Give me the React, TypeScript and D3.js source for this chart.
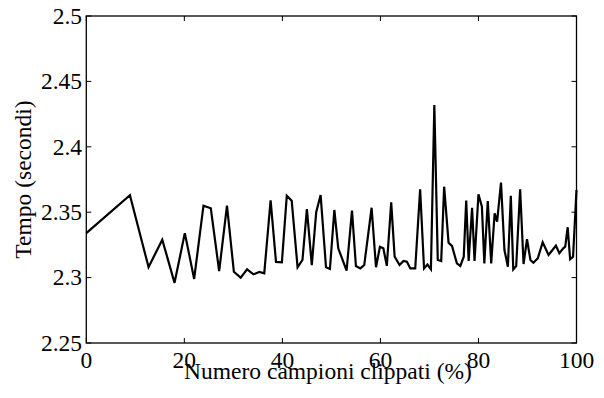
import React from "react";
import * as d3 from "d3";

const xValues = [0, 8.9, 12.7, 15.5, 18.0, 20.1, 22.0, 23.9, 25.4, 27.1, 28.7, 30.1, 31.5, 32.8, 34.1, 35.3, 36.3, 37.6, 38.7, 39.9, 40.9, 41.9, 43.1, 44.1, 45.0, 46.0, 46.9, 47.8, 48.9, 49.7, 50.6, 51.4, 53.1, 54.2, 55.0, 55.9, 56.7, 58.2, 59.1, 59.9, 60.6, 61.3, 62.2, 62.9, 63.9, 64.7, 65.4, 66.1, 67.1, 68.1, 68.9, 69.6, 70.3, 71.0, 71.7, 72.4, 73.0, 73.9, 74.6, 75.6, 76.3, 77.0, 77.5, 78.0, 78.7, 79.2, 80.0, 80.7, 81.2, 81.9, 82.6, 83.3, 83.8, 84.6, 85.3, 86.0, 86.6, 87.1, 87.7, 88.5, 89.2, 89.9, 90.6, 91.2, 92.1, 93.1, 94.3, 95.1, 95.8, 96.5, 97.3, 97.7, 98.2, 98.7, 99.3, 100];
const yValues = [2.334, 2.363, 2.308, 2.329, 2.296, 2.334, 2.299, 2.355, 2.353, 2.305, 2.355, 2.3045, 2.300, 2.3063, 2.3025, 2.3043, 2.3033, 2.359, 2.312, 2.3117, 2.3626, 2.3588, 2.3079, 2.3135, 2.3524, 2.3096, 2.350, 2.3631, 2.3079, 2.3066, 2.3517, 2.3224, 2.3053, 2.3512, 2.3089, 2.307, 2.3096, 2.3534, 2.3079, 2.3236, 2.3224, 2.309, 2.3575, 2.316, 2.3096, 2.3127, 2.3122, 2.307, 2.307, 2.3675, 2.307, 2.310, 2.3064, 2.432, 2.3135, 2.3127, 2.3695, 2.3267, 2.3242, 2.3109, 2.3089, 2.316, 2.359, 2.3127, 2.3534, 2.3127, 2.3637, 2.3542, 2.3109, 2.3586, 2.3109, 2.3492, 2.3428, 2.3726, 2.3211, 2.3083, 2.3626, 2.3063, 2.3089, 2.3675, 2.3104, 2.3293, 2.3135, 2.3114, 2.3147, 2.327, 2.3173, 2.3211, 2.3244, 2.3186, 2.3224, 2.3236, 2.3385, 2.314, 2.316, 2.367];
const xTicks = [0, 20, 40, 60, 80, 100];
const yTicks = [2.25, 2.3, 2.35, 2.4, 2.45, 2.5];
const xLabel = "Numero campioni clippati (%)";
const yLabel = "Tempo (secondi)";

export default function App() {
  const W = 604, H = 398;
  const left = 86.3, right = 576.5, top = 16, bottom = 343;
  const x = d3.scaleLinear().domain([0, 100]).range([left, right]);
  const y = d3.scaleLinear().domain([2.25, 2.5]).range([bottom, top]);
  const pts: [number, number][] = xValues.map((v, i) => [v, yValues[i]]);
  const line = d3.line<[number, number]>().x(d => x(d[0])).y(d => y(d[1]));
  const font = "Liberation Serif";
  const fs = 23.5;
  const tl = 5;
  const ts = { fontFamily: font, fontSize: fs, fill: "#000" } as React.CSSProperties;
  return (
    <svg width={W} height={H} style={{ position: "absolute", left: 0, top: 0, background: "#fff" }}>
      <rect x={0} y={0} width={W} height={H} fill="#fff" />
      <path d={line(pts) || ""} fill="none" stroke="#000" strokeWidth={2.2} strokeLinejoin="miter" />
      <rect x={left} y={top} width={right - left} height={bottom - top} fill="none" stroke="#000" strokeWidth={1.3} />
      {xTicks.map(t => (
        <g key={"x" + t}>
          <line x1={x(t)} x2={x(t)} y1={bottom} y2={bottom - tl} stroke="#000" strokeWidth={1} />
          <line x1={x(t)} x2={x(t)} y1={top} y2={top + tl} stroke="#000" strokeWidth={1} />
          <text x={x(t)} y={368} textAnchor="middle" style={ts}>{String(t)}</text>
        </g>
      ))}
      {yTicks.map(t => (
        <g key={"y" + t}>
          <line x1={left} x2={left + tl} y1={y(t)} y2={y(t)} stroke="#000" strokeWidth={1} />
          <line x1={right} x2={right - tl} y1={y(t)} y2={y(t)} stroke="#000" strokeWidth={1} />
          <text x={82} y={y(t)} dy="0.33em" textAnchor="end" style={ts}>{String(t)}</text>
        </g>
      ))}
      <text x={328} y={379} textAnchor="middle" style={ts}>{xLabel}</text>
      <text transform={`translate(30.5, ${(top + bottom) / 2}) rotate(-90)`} textAnchor="middle" style={ts}>{yLabel}</text>
    </svg>
  );
}
